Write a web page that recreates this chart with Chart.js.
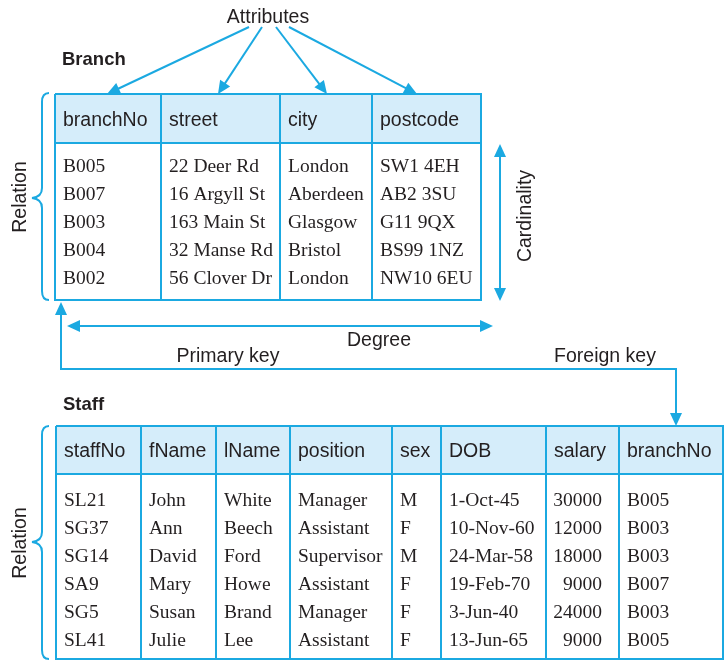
<!DOCTYPE html>
<html>
<head>
<meta charset="utf-8">
<script src="https://cdn.jsdelivr.net/npm/chart.js@4.4.0/dist/chart.umd.min.js"></script>
<style>
  body { margin: 0; background: #fff; }
  #myChart { display: block; }
</style>
</head>
<body>
<canvas id="myChart" width="725" height="661"></canvas>
<script>

// Branch relation
const branchFields = ['branchNo', 'street', 'city', 'postcode'];
const branchNo = ['B005', 'B007', 'B003', 'B004', 'B002'];
const street = ['22 Deer Rd', '16 Argyll St', '163 Main St', '32 Manse Rd', '56 Clover Dr'];
const city = ['London', 'Aberdeen', 'Glasgow', 'Bristol', 'London'];
const postcode = ['SW1 4EH', 'AB2 3SU', 'G11 9QX', 'BS99 1NZ', 'NW10 6EU'];

// Staff relation
const staffFields = ['staffNo', 'fName', 'lName', 'position', 'sex', 'DOB', 'salary', 'branchNo'];
const staffNo = ['SL21', 'SG37', 'SG14', 'SA9', 'SG5', 'SL41'];
const fName = ['John', 'Ann', 'David', 'Mary', 'Susan', 'Julie'];
const lName = ['White', 'Beech', 'Ford', 'Howe', 'Brand', 'Lee'];
const position = ['Manager', 'Assistant', 'Supervisor', 'Assistant', 'Manager', 'Assistant'];
const sex = ['M', 'F', 'M', 'F', 'F', 'F'];
const dob = ['1-Oct-45', '10-Nov-60', '24-Mar-58', '19-Feb-70', '3-Jun-40', '13-Jun-65'];
const salary = [30000, 12000, 18000, 9000, 24000, 9000];
const staffBranch = ['B005', 'B003', 'B003', 'B007', 'B003', 'B005'];

// labels
const labels = {
  attributes: 'Attributes', branch: 'Branch', staff: 'Staff', relation: 'Relation',
  cardinality: 'Cardinality', degree: 'Degree', primary: 'Primary key', foreign: 'Foreign key'
};

// layout (diagram units = pixels of the 725x661 picture)
const branchLayout = { cols: [55, 161, 280, 372, 481], top: 94, head: 143, bottom: 300, rowY: [165, 193, 221, 249, 277] };
const staffLayout = { cols: [56, 141, 216, 290, 392, 441, 546, 619, 723], top: 426, head: 474, bottom: 659, rowY: [499, 527, 555, 583, 611, 639] };

const LINE = '#1ba9e1';
const FILL = '#d5edfa';
const SANS = '"Liberation Sans", Arial, sans-serif';
const SERIF = '"Liberation Serif", "Times New Roman", serif';

const diagramPlugin = {
  id: 'diagram',
  afterDraw(chart) {
    const c = chart.ctx;
    const xs = chart.scales.x, ys = chart.scales.y;
    const X = v => xs.getPixelForValue(v);
    const Y = v => ys.getPixelForValue(v);

    function text(str, x, y, font, align, rot) {
      c.save();
      c.fillStyle = '#231f20';
      c.font = font;
      c.textAlign = align || 'left';
      c.textBaseline = 'middle';
      c.translate(X(x), Y(y));
      if (rot) c.rotate(rot);
      // middle baseline sits a little high, nudge down
      c.fillText(str, 0, 2);
      c.restore();
    }

    function head(x, y, dx, dy) {
      // filled arrow head with tip at x,y pointing along dx,dy
      const len = 13, w = 6;
      const a = Math.atan2(dy, dx);
      c.save();
      c.fillStyle = LINE;
      c.translate(X(x), Y(y));
      c.rotate(a);
      c.beginPath();
      c.moveTo(0, 0);
      c.lineTo(-len, -w);
      c.lineTo(-len, w);
      c.closePath();
      c.fill();
      c.restore();
    }

    function line(pts) {
      c.save();
      c.strokeStyle = LINE;
      c.lineWidth = 2;
      c.beginPath();
      pts.forEach((p, i) => i ? c.lineTo(X(p[0]), Y(p[1])) : c.moveTo(X(p[0]), Y(p[1])));
      c.stroke();
      c.restore();
    }

    function arrow(x1, y1, x2, y2) {
      const a = Math.atan2(y2 - y1, x2 - x1);
      line([[x1, y1], [x2 - Math.cos(a) * 10, y2 - Math.sin(a) * 10]]);
      head(x2, y2, x2 - x1, y2 - y1);
    }

    function brace(x, top, bottom, mid) {
      c.save();
      c.strokeStyle = LINE;
      c.lineWidth = 2;
      c.beginPath();
      c.moveTo(X(x + 7), Y(top));
      c.quadraticCurveTo(X(x), Y(top), X(x), Y(top + 9));
      c.lineTo(X(x), Y(mid - 10));
      c.quadraticCurveTo(X(x), Y(mid - 1), X(x - 10), Y(mid));
      c.quadraticCurveTo(X(x), Y(mid + 1), X(x), Y(mid + 10));
      c.lineTo(X(x), Y(bottom - 9));
      c.quadraticCurveTo(X(x), Y(bottom), X(x + 7), Y(bottom));
      c.stroke();
      c.restore();
    }

    function table(fields, columns, L, rightAlign) {
      const cols = L.cols;
      c.save();
      c.fillStyle = FILL;
      c.fillRect(X(cols[0]), Y(L.top), X(cols[cols.length - 1]) - X(cols[0]), Y(L.head) - Y(L.top));
      c.restore();
      const hy = (L.top + L.head) / 2;
      fields.forEach((f, i) => text(f, cols[i] + 8, hy, '19.5px ' + SANS));
      columns.forEach((col, i) => {
        col.forEach((v, r) => {
          if (rightAlign[i]) text(String(v), cols[i + 1] - 17, L.rowY[r], '19.5px ' + SERIF, 'right');
          else text(String(v), cols[i] + 8, L.rowY[r], '19.5px ' + SERIF);
        });
      });
      // grid
      const l = cols[0], rt = cols[cols.length - 1];
      line([[l, L.top], [rt, L.top], [rt, L.bottom], [l, L.bottom], [l, L.top]]);
      line([[l, L.head], [rt, L.head]]);
      cols.slice(1, -1).forEach(cx => line([[cx, L.top], [cx, L.bottom]]));
    }

    // Branch
    text(labels.branch, 62, 58, 'bold 18.5px ' + SANS);
    table(branchFields, [branchNo, street, city, postcode], branchLayout, []);
    brace(42, 93, 300, 198);
    text(labels.relation, 19, 197, '19.5px ' + SANS, 'center', -Math.PI / 2);

    // Attributes arrows
    text(labels.attributes, 268, 16, '19.5px ' + SANS, 'center');
    arrow(249, 27, 107, 94);
    arrow(262, 27, 218, 94);
    arrow(276, 27, 327, 94);
    arrow(289, 27, 417, 94);

    // Cardinality
    line([[500, 156], [500, 290]]);
    head(500, 144, 0, -1);
    head(500, 301, 0, 1);
    text(labels.cardinality, 524, 216, '19.5px ' + SANS, 'center', -Math.PI / 2);

    // Degree
    line([[78, 326], [482, 326]]);
    head(67, 326, -1, 0);
    head(493, 326, 1, 0);
    text(labels.degree, 379, 339, '19.5px ' + SANS, 'center');

    // Primary key -> foreign key
    line([[61, 313], [61, 369], [676, 369], [676, 414]]);
    head(61, 302, 0, -1);
    head(676, 426, 0, 1);
    text(labels.primary, 228, 355, '19.5px ' + SANS, 'center');
    text(labels.foreign, 605, 355, '19.5px ' + SANS, 'center');

    // Staff
    text(labels.staff, 63, 403, 'bold 18.5px ' + SANS);
    table(staffFields, [staffNo, fName, lName, position, sex, dob, salary, staffBranch], staffLayout,
      [false, false, false, false, false, false, true, false]);
    brace(42, 426, 659, 542);
    text(labels.relation, 19, 543, '19.5px ' + SANS, 'center', -Math.PI / 2);
  }
};

const ctx = document.getElementById('myChart').getContext('2d');
const myChart = new Chart(ctx, {
  type: 'scatter',
  data: { datasets: [{ data: [] }] },
  options: {
    responsive: false,
    animation: false,
    layout: { padding: 0 },
    plugins: { legend: { display: false }, tooltip: { enabled: false } },
    scales: {
      x: { type: 'linear', display: false, min: 0, max: 725 },
      y: { type: 'linear', display: false, min: 0, max: 661, reverse: true }
    }
  },
  plugins: [diagramPlugin]
});
</script>
</body>
</html>
